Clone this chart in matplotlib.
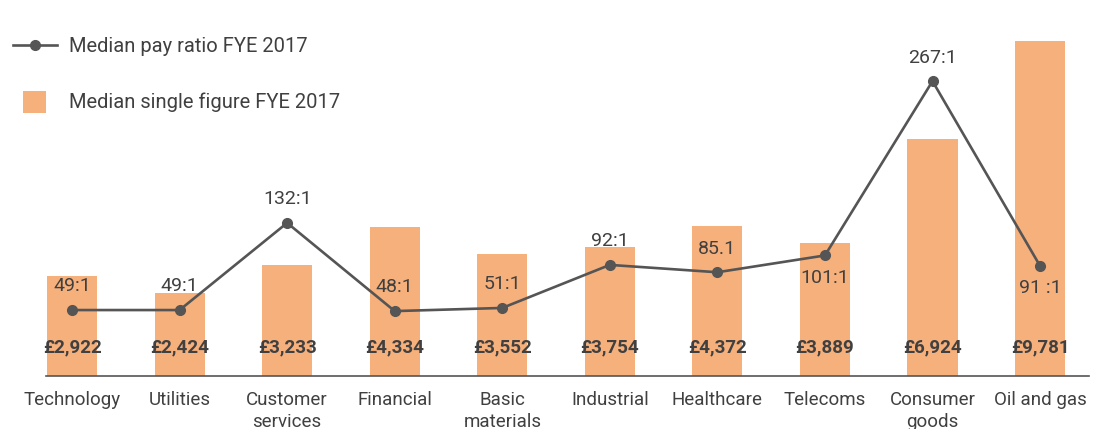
import matplotlib
matplotlib.use("Agg")
import matplotlib.pyplot as plt
from matplotlib.lines import Line2D
from matplotlib.patches import Rectangle

categories = ["Technology", "Utilities", "Customer\nservices", "Financial", "Basic\nmaterials",
              "Industrial", "Healthcare", "Telecoms", "Consumer\ngoods", "Oil and gas"]
single_figure = [2922, 2424, 3233, 4334, 3552, 3754, 4372, 3889, 6924, 9781]
single_labels = ["£2,922", "£2,424", "£3,233", "£4,334", "£3,552", "£3,754", "£4,372", "£3,889", "£6,924", "£9,781"]
pay_ratio = [49, 49, 132, 48, 51, 92, 85, 101, 267, 91]
ratio_labels = ["49:1", "49:1", "132:1", "48:1", "51:1", "92:1", "85.1", "101:1", "267:1", "91 :1"]
labels_below = {7, 9}
legend_labels = ["Median pay ratio FYE 2017", "Median single figure FYE 2017"]

BAR = "#F6B07C"
LINE = "#555555"
TXT = "#404040"
FONT = ["Roboto", "DejaVu Sans"]

plt.rcParams['font.family'] = FONT

W, H = 1096, 429
fig = plt.figure(figsize=(W / 100, H / 100), dpi=100)
ax_left, ax_right, ax_base = 46, 1089, 375.5
ax = fig.add_axes([ax_left / W, (H - ax_base) / H, (ax_right - ax_left) / W, ax_base / H])

x = list(range(len(categories)))
ax.bar(x, single_figure, width=0.465, color=BAR, zorder=1)
ax.set_xlim(-0.242, 9.455)
ax.set_ylim(0, ax_base / 0.03415)

for xi, lab in zip(x, single_labels):
    ax.text(xi, 830, lab, ha="center", va="center", fontsize=13.5, fontweight="bold",
            color=TXT, zorder=5)

for s in ["top", "left", "right"]:
    ax.spines[s].set_visible(False)
ax.spines["bottom"].set_color("#555555")
ax.spines["bottom"].set_linewidth(1.2)
ax.set_yticks([])
ax.set_xticks(x)
ax.set_xticklabels(categories, fontsize=13.5, color=TXT, linespacing=1.25)
ax.tick_params(axis="x", length=0, pad=11.5)

ax2 = ax.twinx()
ax2.set_ylim(-(ax_base - 361.5) / 1.05, 361.5 / 1.05)
ax2.plot(x, pay_ratio, color=LINE, lw=1.9, marker="o", markersize=7, zorder=4)
ax2.axis("off")
for xi, v, lab in zip(x, pay_ratio, ratio_labels):
    off = -16 if xi in labels_below else 17
    ax2.annotate(lab, (xi, v), xytext=(0, off), textcoords="offset points",
                 ha="center", va="center", fontsize=14, color=TXT)

# legend drawn in figure pixel coordinates
def fx(px):
    return px / W

def fy(py):
    return (H - py) / H

fig.add_artist(Line2D([fx(13), fx(57)], [fy(45), fy(45)], color=LINE, lw=1.9,
                      transform=fig.transFigure))
fig.add_artist(Line2D([fx(35)], [fy(45)], color=LINE, marker="o", markersize=7,
                      transform=fig.transFigure))
fig.add_artist(Rectangle((fx(23), fy(113)), fx(23), 22 / H, facecolor=BAR, edgecolor="none",
                         transform=fig.transFigure))
fig.text(fx(69), fy(46), legend_labels[0], ha="left", va="center", fontsize=14.5, color=TXT)
fig.text(fx(69), fy(102), legend_labels[1], ha="left", va="center", fontsize=14.5, color=TXT)

fig.savefig("out.png", dpi=100)
